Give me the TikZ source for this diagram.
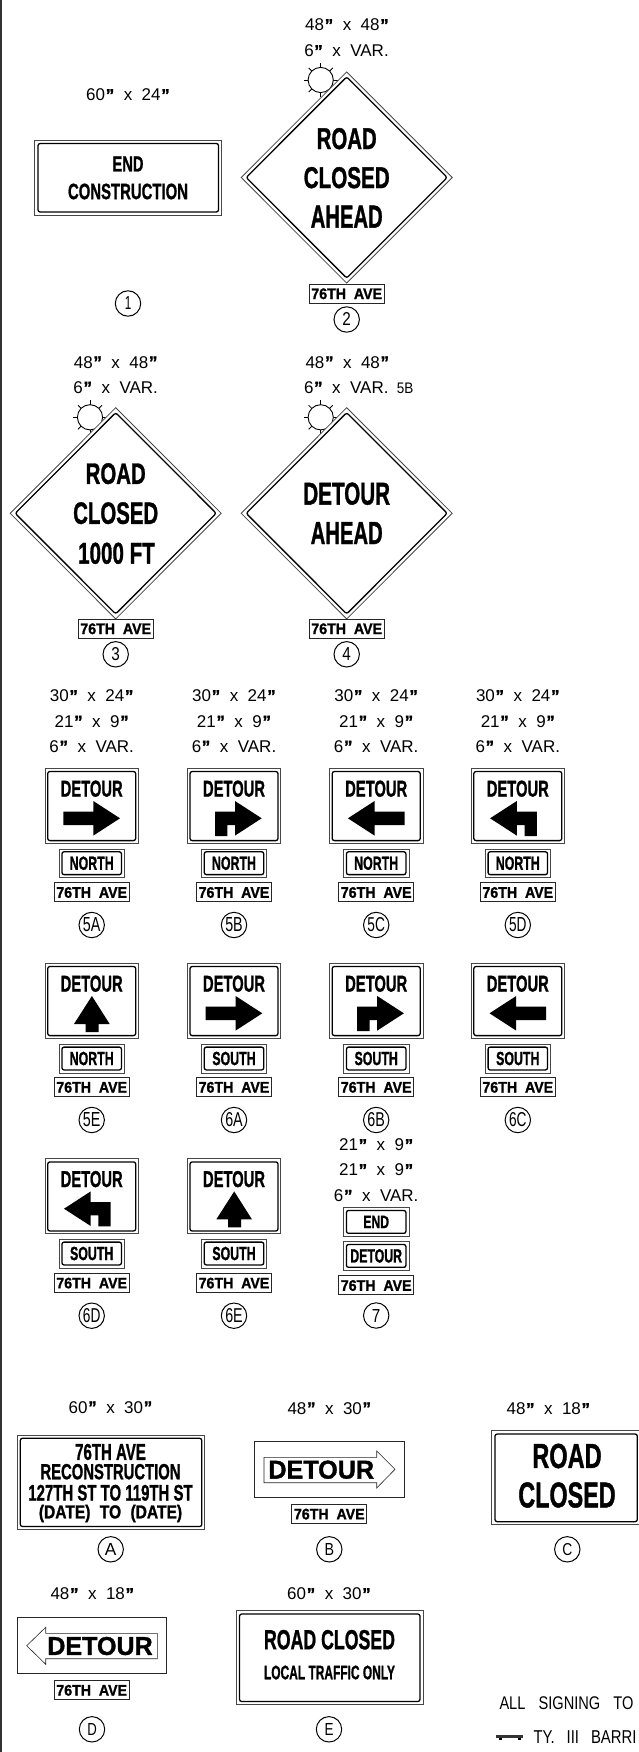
\documentclass[tikz,border=0pt]{standalone}
\usepackage{fontspec}
\usepackage{graphicx}
\setmainfont{Liberation Sans}[BoldFeatures={FakeBold=1.3}]
\newcounter{nn}
\tikzset{
  outerline/.style={draw=black!72,line width=0.8pt},
  innerline/.style={draw=black,line width=1.3pt,rounded corners=2.2pt},
  plainbox/.style={draw=black!85,line width=0.8pt},
  refring/.style={draw=black,line width=1pt},
  txt/.style={inner sep=0pt,anchor=center},
}
% bold text fitted to a width and height
\newcommand\sg[5]{\stepcounter{nn}\node[txt] (n\arabic{nn}) at (#1,#2) {\resizebox{#3pt}{#4pt}{\bfseries #5}};}
% regular text fitted
\newcommand\rg[5]{\stepcounter{nn}\node[txt] (n\arabic{nn}) at (#1,#2) {\resizebox{#3pt}{#4pt}{#5}};}
% size label
\newcommand\lab[3]{\stepcounter{nn}\node[txt] (n\arabic{nn}) at (#1,#2) {\fontsize{17}{17}\selectfont #3};}
\newcommand\Qq{\kern0.6pt{\bfseries"}}
\newcommand\X{\hspace{9.5pt}x\hspace{9.5pt}}
\newcommand\SZ[2]{#1\Qq\X#2\Qq}
\newcommand\VAR{6\Qq\X VAR.}
% reference ring
\newcommand\ring[5]{\draw[refring] (#1,#2) circle (12.7);\rg{#1}{#2}{#3}{#4}{#5}}
% street plate
\newcommand\ave[2]{\draw[plainbox] (#1-37.5,#2) rectangle (#1+37.5,#2+19);\sg{#1}{#2+9.8}{70.7}{10.7}{76TH\hspace{.55em}AVE}}
% small double plate
\newcommand\plate[5]{\draw[outerline] (#1-32.7,#2) rectangle (#1+32.7,#2+28.8);
  \draw[innerline,rounded corners=2pt] (#1-29.7,#2+2.8) rectangle (#1+29.7,#2+25.6);
  \sg{#1}{#2+14.2}{#4}{#5}{#3}}
% flasher
\newcommand\flasher[2]{\begin{scope}[shift={(#1,#2)}]
  \foreach \a in {0,45,...,315}{\draw[line width=0.8pt] (\a:12.4) -- (\a:17);}
  \draw[line width=0.9pt,fill=white] (0,0) circle (12.6);
  \end{scope}}
% diamond sign
\newcommand\diam[2]{\begin{scope}[shift={(#1,#2)}]
  \draw[outerline,fill=white] (0,-105.6) -- (105.5,0) -- (0,105.6) -- (-105.5,0) -- cycle;
  \draw[innerline] (0,-100.6) -- (100.5,0) -- (0,100.6) -- (-100.5,0) -- cycle;
  \end{scope}}
% detour sign: cx, top, arrow path
\newcommand\dsign[4]{\begin{scope}[shift={(#1,#2)}]
  \draw[outerline] (-46.8,0) rectangle (46.8,75);
  \draw[innerline] (-44,3.2) rectangle (44,72.3);
  \begin{scope}[xscale=#3]\fill[black,line join=round] #4;\end{scope}
  \end{scope}
  \sg{#1}{#2+20.4}{62}{16}{DETOUR}}
\newcommand\straightA{(-28.4,43.4) -- (1.6,43.4) -- (1.6,32.7) -- (28.3,50) -- (1.6,67.3) -- (1.6,56.7) -- (-28.4,56.7) -- cycle}
\newcommand\elbowA{(-19,67.7) -- (-19,43.4) -- (1,43.4) -- (1,32.7) -- (27.7,50) -- (1,67.3) -- (1,56.7) -- (-6.7,56.7) -- (-6.7,67.7) -- cycle}
\newcommand\upA{(-6,68.7) -- (-6,60.7) -- (-17.7,60.7) -- (0.2,32.7) -- (18,60.7) -- (7,60.7) -- (7,68.7) -- cycle}
\begin{document}
\begin{tikzpicture}[x=1pt,y=-1pt]
\useasboundingbox (0,0) rectangle (638,1752);
\fill[white] (0,0) rectangle (638,1752);
\draw[black!80,line width=1.8pt] (1,0) -- (1,1752);

% sign 1
\lab{128}{95}{\SZ{60}{24}}
\draw[outerline] (34.5,140) rectangle (221,215);
\draw[innerline] (38,143.5) rectangle (218.5,212);
\sg{128}{164}{31}{15}{END}
\sg{128}{191.5}{120}{15.5}{CONSTRUCTION}
\ring{128}{303.5}{6.5}{13}{1}

% sign 2
\lab{347}{25}{\SZ{48}{48}}
\lab{346.5}{51}{\VAR}
\flasher{320.7}{80}
\diam{346.7}{177.5}
\sg{346.7}{138.7}{60}{21}{ROAD}
\sg{346.7}{177.7}{86}{21}{CLOSED}
\sg{346.7}{216.7}{72}{22}{AHEAD}
\ave{346.7}{284}
\ring{346.7}{319.5}{8.5}{13}{2}

% sign 3
\lab{115.7}{362.3}{\SZ{48}{48}}
\lab{115.7}{387.7}{\VAR}
\flasher{90}{417.3}
\diam{115.7}{513.3}
\sg{115.7}{473.7}{60}{20.7}{ROAD}
\sg{115.7}{513.2}{85}{21.5}{CLOSED}
\sg{116.5}{553.3}{76.7}{21}{1000 FT}
\ave{115.7}{619}
\ring{115.7}{654.3}{8.5}{13}{3}

% sign 4
\lab{347.3}{362.3}{\SZ{48}{48}}
\lab{346.3}{387.7}{\VAR}
\rg{405}{388.5}{16.5}{10.5}{5B}
\flasher{320.7}{417.3}
\diam{346.7}{513.3}
\sg{346.7}{493.7}{86.7}{22}{DETOUR}
\sg{346.7}{533}{72}{22}{AHEAD}
\ave{346.7}{619}
\ring{346.7}{654.3}{8.5}{13}{4}

% size labels, detour row
\foreach \c in {91.7,234,376.2,517.8}{
  \lab{\c}{696}{\SZ{30}{24}}
  \lab{\c}{721.7}{\SZ{21}{9}}
  \lab{\c}{746.7}{\VAR}
}

% row 1
\dsign{91.7}{768.3}{1}{\straightA}
\plate{91.7}{849}{NORTH}{44}{13.3}
\ave{91.7}{882.7}
\ring{91.7}{925}{17.5}{14}{5A}

\dsign{234}{768.3}{1}{\elbowA}
\plate{234}{849}{NORTH}{44}{13.3}
\ave{234}{882.7}
\ring{234}{925}{17.5}{14}{5B}

\dsign{376.2}{768.3}{-1}{\straightA}
\plate{376.2}{849}{NORTH}{44}{13.3}
\ave{376.2}{882.7}
\ring{376.2}{925}{17.5}{14}{5C}

\dsign{517.8}{768.3}{-1}{\elbowA}
\plate{517.8}{849}{NORTH}{44}{13.3}
\ave{517.8}{882.7}
\ring{517.8}{925}{17.5}{14}{5D}

% row 2
\dsign{91.7}{963.3}{1}{\upA}
\plate{91.7}{1044.3}{NORTH}{44}{13.3}
\ave{91.7}{1077.5}
\ring{91.7}{1120}{17.5}{14}{5E}

\dsign{234}{963.3}{1}{\straightA}
\plate{234}{1044.3}{SOUTH}{43.3}{13.3}
\ave{234}{1077.5}
\ring{234}{1120}{17.5}{14}{6A}

\dsign{376.2}{963.3}{1}{\elbowA}
\plate{376.2}{1044.3}{SOUTH}{43.3}{13.3}
\ave{376.2}{1077.5}
\ring{376.2}{1120}{17.5}{14}{6B}

\dsign{517.8}{963.3}{-1}{\straightA}
\plate{517.8}{1044.3}{SOUTH}{43.3}{13.3}
\ave{517.8}{1077.5}
\ring{517.8}{1120}{17.5}{14}{6C}

% row 3
\dsign{91.7}{1158.7}{-1}{\elbowA}
\plate{91.7}{1239.3}{SOUTH}{43.3}{13.3}
\ave{91.7}{1273.3}
\ring{91.7}{1315.7}{17.5}{14}{6D}

\dsign{234}{1158.7}{1}{\upA}
\plate{234}{1239.3}{SOUTH}{43.3}{13.3}
\ave{234}{1273.3}
\ring{234}{1315.7}{17.5}{14}{6E}

% sign 7
\lab{376.2}{1145}{\SZ{21}{9}}
\lab{376.2}{1170}{\SZ{21}{9}}
\lab{376.2}{1195.7}{\VAR}
\plate{376.2}{1207.7}{END}{25.7}{12.3}
\plate{376.2}{1241.7}{DETOUR}{51.7}{13.3}
\ave{376.2}{1275.7}
\ring{376.2}{1315.5}{8.5}{13}{7}

% sign A
\lab{110.5}{1407.3}{\SZ{60}{30}}
\draw[outerline] (17.5,1435) rectangle (204.3,1529);
\draw[innerline] (20.3,1438.3) rectangle (201.8,1526.5);
\sg{110.5}{1452}{70.7}{16}{76TH AVE}
\sg{110.5}{1471.7}{140}{15.3}{RECONSTRUCTION}
\sg{110.5}{1492.8}{164.3}{15.7}{127TH ST TO 119TH ST}
\sg{110.5}{1513.5}{143.3}{13.5}{(DATE)\hspace{.6em}TO\hspace{.6em}(DATE)}
\ring{110.7}{1549.3}{11.5}{12}{A}

% sign B
\lab{329.3}{1408.3}{\SZ{48}{30}}
\draw[plainbox] (254.5,1441.3) rectangle (404.7,1497.3);
\draw[draw=black!85,line width=0.6pt] (264,1457.3) -- (376.7,1457.3) -- (376.7,1451) -- (395,1469.3) -- (376.7,1488) -- (376.7,1482.7) -- (264,1482.7) -- cycle;
\sg{321.2}{1469.7}{105.7}{18}{DETOUR}
\ave{329.3}{1504.3}
\ring{329.3}{1549.3}{9.5}{12}{B}

% sign C
\lab{548.3}{1409}{\SZ{48}{18}}
\draw[outerline] (491.7,1430.7) rectangle (640,1524.3);
\draw[innerline] (495,1434) rectangle (637.3,1521.7);
\sg{567}{1456}{69.3}{24.3}{ROAD}
\sg{567}{1495}{97.3}{25}{CLOSED}
\ring{567.3}{1549.3}{10}{12}{C}

% sign D
\lab{92.3}{1594}{\SZ{48}{18}}
\draw[plainbox] (17.5,1617.3) rectangle (166.7,1673.3);
\draw[draw=black!85,line width=0.6pt] (157.3,1633.3) -- (45.7,1633.3) -- (45.7,1627.3) -- (26.7,1645.7) -- (45.7,1664.3) -- (45.7,1658.7) -- (157.3,1658.7) -- cycle;
\sg{100}{1646}{105.4}{18}{DETOUR}
\ave{91.7}{1680.5}
\ring{92}{1729.3}{9.5}{12}{D}

% sign E
\lab{329}{1594}{\SZ{60}{30}}
\draw[outerline] (236.3,1610.7) rectangle (423.3,1704);
\draw[innerline] (239.5,1614) rectangle (420,1701.5);
\sg{329.5}{1639.7}{131}{19.3}{ROAD CLOSED}
\sg{329.5}{1672.5}{131}{13.7}{LOCAL TRAFFIC ONLY}
\ring{329}{1729.3}{9}{12}{E}

% notes
\rg{566.5}{1702.7}{134}{12.8}{ALL\hspace{9pt}SIGNING\hspace{9pt}TO}
\fill[black!80] (496,1735.3) rectangle (522.7,1738.3);
\fill[black] (498.5,1738) rectangle (501.5,1740.3);
\fill[black] (517.5,1738) rectangle (520.5,1740.3);
\rg{585}{1737}{103}{12.8}{TY.\hspace{8pt}III\hspace{8pt}BARRI}
\end{tikzpicture}
\end{document}
